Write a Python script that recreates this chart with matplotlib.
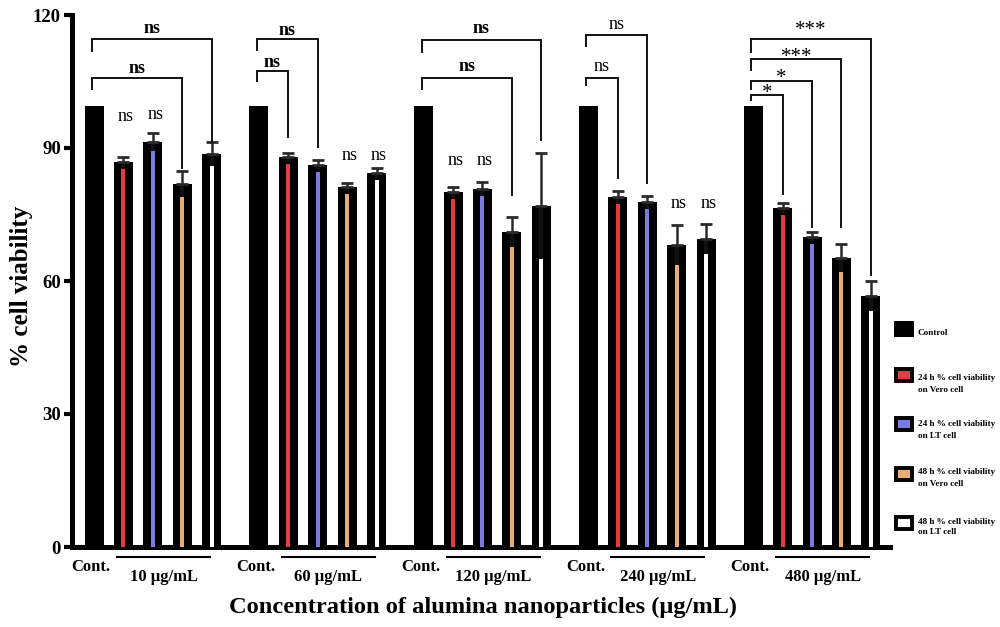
import matplotlib
matplotlib.use('Agg')
import matplotlib.pyplot as plt
from matplotlib.patches import Rectangle
import numpy as np

plt.rcParams['font.family'] = ['Liberation Serif', 'DejaVu Serif']

# ---------------- data ----------------
groups = ['10 µg/mL', '60 µg/mL', '120 µg/mL', '240 µg/mL', '480 µg/mL']
series = ['Control',
          '24 h % cell viability\non Vero cell',
          '24 h % cell viability\non LT cell',
          '48 h % cell viability\non Vero cell',
          '48 h % cell viability\non LT cell']
control = [99.4, 99.4, 99.4, 99.4, 99.4]
vero24 = [86.8, 88.0, 80.1, 79.0, 76.5]
vero24_err = [1.1, 0.9, 1.1, 1.4, 1.1]
lt24 = [91.4, 86.2, 80.8, 77.8, 70.0]
lt24_err = [2.0, 1.1, 1.6, 1.3, 1.1]
vero48 = [81.9, 81.2, 71.1, 68.1, 65.2]
vero48_err = [2.9, 0.9, 3.4, 4.5, 3.2]
lt48 = [88.6, 84.4, 76.9, 69.5, 56.6]
lt48_err = [2.7, 1.1, 11.9, 3.4, 3.4]
colors = ['black', '#e53a3f', '#7b7be0', '#e9ab74', '#ffffff']

# significance brackets: (group, series index, label, bold)
brackets = [
    (0, 4, 'ns', True), (0, 3, 'ns', True),
    (1, 2, 'ns', True), (1, 1, 'ns', True),
    (2, 4, 'ns', True), (2, 3, 'ns', True),
    (3, 2, 'ns', False), (3, 1, 'ns', False),
    (4, 4, '***', False), (4, 3, '***', False), (4, 2, '*', False), (4, 1, '*', False),
]
# bracket levels: (bar top level, left leg end, right leg end, text level)
bracket_levels = [
    (114.6, 111.9, 91.3, 116.9), (105.8, 103.3, 85.5, 107.9),
    (114.6, 112.1, 90.2, 116.6), (107.4, 105.1, 92.5, 109.2),
    (114.4, 111.7, 91.8, 116.9), (105.8, 103.3, 79.4, 108.3),
    (115.5, 113.0, 82.1, 117.8), (105.8, 104.2, 83.2, 108.3),
    (114.6, 111.7, 61.4, 116.4), (110.1, 107.6, 72.2, 110.4),
    (105.1, 103.3, 72.2, 105.6), (102.0, 100.8, 79.6, 102.4),
]
# stand-alone "ns": (group, series index, level)
free_ns = [(0, 1, 97.0), (0, 2, 97.5), (1, 3, 88.4), (1, 4, 88.4),
           (2, 1, 87.1), (2, 2, 87.1), (3, 3, 77.4), (3, 4, 77.4)]

# ---------------- figure ----------------
W, H = 1000, 627
fig = plt.figure(figsize=(W / 100, H / 100), dpi=100)
ax = fig.add_axes([72 / W, 1 - 547 / H, 818 / W, 532 / H])

gstep = 5.6
gx = np.arange(len(groups)) * gstep
bw, sw = 0.645, 0.136

vals = [control, vero24, lt24, vero48, lt48]
errs = [None, vero24_err, lt24_err, vero48_err, lt48_err]

for i, (v, e) in enumerate(zip(vals, errs)):
    x = gx + i
    v = np.array(v)
    ax.bar(x, v, width=bw, color='black', zorder=2)
    if i > 0:
        ax.bar(x, v - 1.6, width=sw, color=colors[i], zorder=3)
        e = np.array(e)
        z = np.zeros_like(e)
        ax.errorbar(x, v, yerr=[e, z], fmt='none', ecolor='#111111',
                    elinewidth=3, capsize=0, zorder=4)
        ax.errorbar(x, v, yerr=[z, e], fmt='none', ecolor='#2a2a2a',
                    elinewidth=1.8, capsize=4.3, capthick=2, zorder=4)

ax.set_xlim(-0.75, 27.05)
ax.set_ylim(0, 120)
ax.set_yticks([0, 30, 60, 90, 120])
ax.set_xticks(gx + 2)
ax.set_xticklabels([])
ax.tick_params(axis='y', direction='out', length=6, width=3, pad=2,
               labelsize=13.5)
ax.tick_params(axis='x', direction='out', length=2.5, width=3)
for lab in ax.get_yticklabels():
    lab.set_fontweight('bold')
for s in ['top', 'right']:
    ax.spines[s].set_visible(False)
for s in ['left', 'bottom']:
    ax.spines[s].set_linewidth(3.6)
    ax.spines[s].set_capstyle('projecting')
ax.patch.set_visible(False)

# brackets
for (g, si, lab, bold), (yt, yl, yr, ty) in zip(brackets, bracket_levels):
    xl = gx[g] - 0.07
    xr = gx[g] + si
    ax.plot([xl, xl, xr, xr], [yl, yt, yt, yr], color='#111111', lw=1.4,
            solid_joinstyle='miter', zorder=5, clip_on=False)
    fs = 15 if '*' in lab else 13
    ax.text((xl + xr) / 2, ty, lab, ha='center', va='center', fontsize=fs,
            fontweight='bold' if bold else 'normal', clip_on=False)

for g, si, ty in free_ns:
    ax.text(gx[g] + si + 0.08, ty, 'ns', ha='center', va='center', fontsize=13)

# labels under the axis
tr = ax.get_xaxis_transform()
for g, name in enumerate(groups):
    ax.text(gx[g] - 0.1, -0.038, 'Cont.', transform=tr, ha='center',
            va='center', fontsize=12, fontweight='bold')
    ax.plot([gx[g] + 0.78, gx[g] + 3.94], [-0.019, -0.019], transform=tr,
            color='black', lw=1.5, clip_on=False)
    ax.text(gx[g] + 2.36, -0.056, name, transform=tr, ha='center',
            va='center', fontsize=12, fontweight='bold')

fig.text(483 / W, 1 - 607 / H, 'Concentration of alumina nanoparticles (µg/mL)',
         ha='center', va='center', fontsize=17.6, fontweight='bold')
fig.text(22 / W, 1 - 286 / H, '% cell viability', rotation=90,
         ha='center', va='center', fontsize=18, fontweight='bold')

# legend
patch_y = [329, 375, 424, 474, 523]
text_y = [333, 384, 430, 478, 527]
for i, (py, ty) in enumerate(zip(patch_y, text_y)):
    if i == 0:
        r = Rectangle((894 / W, 1 - (py + 8) / H), 20 / W, 16 / H,
                      transform=fig.transFigure, facecolor='black',
                      edgecolor='black', lw=0)
    else:
        r = Rectangle((896 / W, 1 - (py + 6) / H), 16 / W, 12 / H,
                      transform=fig.transFigure, facecolor=colors[i],
                      edgecolor='black', lw=2.8, joinstyle='miter')
    fig.add_artist(r)
    fig.text(918 / W, 1 - ty / H, series[i], ha='left', va='center',
             fontsize=6.6, fontweight='bold', linespacing=1.5)

fig.savefig('out.png', dpi=100)
